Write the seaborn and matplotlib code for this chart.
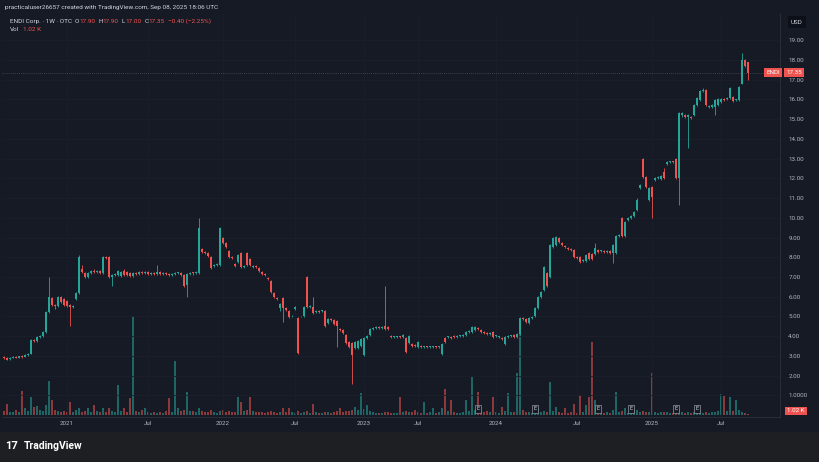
import numpy as np
import pandas as pd
import matplotlib.pyplot as plt
import seaborn as sns
from matplotlib.transforms import blended_transform_factory

# weekly candles, ENDI Corp. (OTC)
opens = [
    2.95, 2.90, 2.85, 2.90, 2.95, 2.92, 3.00, 2.97, 3.05, 3.10,
    3.80, 3.75, 3.95, 4.00, 4.20, 5.25, 5.95, 5.60, 5.55, 6.00,
    5.90, 5.80, 5.60, 5.50, 5.90, 6.20, 7.40, 7.20, 7.00, 7.20,
    7.30, 7.25, 7.30, 7.20, 8.00, 8.00, 7.00, 7.10, 7.10, 7.05,
    7.30, 7.25, 7.20, 7.05, 7.20, 7.15, 7.25, 7.20, 7.25, 7.15,
    7.20, 7.15, 7.25, 7.15, 7.20, 7.15, 7.10, 7.15, 7.20, 7.20,
    7.10, 6.60, 7.15, 7.20, 7.20, 7.20, 8.40, 8.22, 8.20, 8.00,
    7.55, 7.60, 7.60, 9.00, 8.70, 8.30, 8.00, 7.65, 7.75, 8.20,
    7.50, 8.20, 7.90, 7.50, 7.55, 7.45, 7.25, 7.15, 6.95, 6.80,
    6.20, 5.95, 5.45, 5.95, 5.45, 5.30, 5.00, 5.40, 4.90, 5.00,
    5.00, 7.00, 5.50, 5.50, 5.25, 5.30, 5.30, 5.30, 4.65, 4.85,
    4.80, 4.75, 4.35, 4.30, 4.05, 3.70, 3.65, 3.40, 3.40, 3.50,
    3.05, 3.90, 4.05, 4.35, 4.40, 4.45, 4.40, 4.50, 4.45, 4.00,
    3.95, 3.95, 3.96, 3.95, 3.90, 3.65, 3.60, 3.55, 3.45, 3.50,
    3.45, 3.46, 3.45, 3.45, 3.46, 3.45, 3.10, 3.90, 3.95, 3.95,
    4.00, 3.95, 4.00, 4.00, 4.05, 4.20, 4.20, 4.30, 4.40, 4.30,
    4.20, 4.15, 4.10, 4.20, 4.00, 3.95, 3.90, 3.60, 3.95, 4.00,
    4.05, 3.95, 4.10, 4.90, 4.85, 4.65, 4.90, 5.00, 5.45, 6.00,
    6.35, 7.20, 7.00, 8.50, 8.60, 9.00, 8.70, 8.55, 8.45, 8.40,
    8.35, 8.00, 8.00, 7.80, 7.80, 8.20, 8.15, 8.15, 8.35, 8.30,
    8.30, 8.25, 8.30, 8.20, 8.20, 9.10, 10.00, 9.10, 9.90, 10.00,
    10.10, 10.40, 11.50, 13.00, 12.05, 10.90, 11.55, 11.90, 12.00, 11.95,
    12.30, 12.70, 12.80, 12.85, 13.00, 12.00, 15.20, 15.20, 15.10, 15.10,
    15.20, 15.70, 15.95, 16.40, 16.45, 15.60, 15.60, 15.60, 15.70, 15.85,
    16.00, 16.00, 16.05, 16.10, 15.95, 15.95, 16.80, 18.00, 17.90,
]
closes = [
    2.90, 2.82, 2.90, 2.95, 2.92, 3.00, 2.97, 3.05, 3.10, 3.80,
    3.75, 3.95, 4.00, 4.20, 5.25, 6.00, 5.60, 5.55, 6.00, 5.75,
    5.60, 5.55, 5.50, 5.55, 6.20, 8.00, 7.25, 7.00, 7.20, 7.30,
    7.25, 7.30, 7.20, 8.00, 7.95, 7.00, 7.10, 7.15, 7.30, 7.25,
    7.10, 7.10, 7.05, 7.20, 7.15, 7.25, 7.20, 7.25, 7.15, 7.20,
    7.15, 7.25, 7.15, 7.20, 7.15, 7.10, 7.15, 7.20, 7.22, 7.10,
    6.55, 7.15, 7.20, 7.18, 7.25, 9.50, 8.25, 8.20, 8.05, 7.45,
    7.60, 7.65, 9.50, 8.70, 8.50, 8.00, 7.95, 7.55, 8.10, 7.50,
    7.55, 7.60, 7.60, 7.55, 7.50, 7.30, 7.15, 7.10, 6.90, 6.25,
    6.00, 5.90, 5.65, 5.45, 5.35, 4.95, 5.05, 5.50, 3.15, 5.02,
    5.50, 5.50, 5.55, 5.20, 5.30, 5.25, 5.32, 4.50, 4.85, 4.80,
    4.60, 4.50, 4.30, 4.15, 3.65, 3.45, 3.05, 3.70, 3.75, 3.85,
    3.90, 4.00, 4.35, 4.40, 4.45, 4.40, 4.45, 4.35, 4.35, 3.95,
    3.95, 3.96, 3.95, 4.05, 3.20, 4.00, 3.50, 3.50, 3.70, 3.45,
    3.46, 3.45, 3.45, 3.46, 3.45, 3.46, 3.60, 3.70, 3.95, 3.92,
    3.95, 4.00, 4.00, 4.05, 4.20, 4.25, 4.45, 4.45, 4.35, 4.20,
    4.15, 4.10, 4.15, 3.95, 4.00, 3.96, 3.85, 3.95, 4.00, 4.02,
    3.95, 4.10, 4.90, 4.85, 4.70, 4.90, 4.95, 5.45, 6.00, 6.25,
    7.50, 6.55, 8.60, 9.00, 9.05, 8.75, 8.60, 8.50, 8.40, 8.35,
    8.00, 7.95, 7.75, 7.85, 8.10, 7.90, 7.90, 8.45, 8.25, 8.30,
    8.25, 8.30, 8.20, 8.60, 9.10, 9.12, 9.10, 9.80, 10.00, 10.10,
    10.30, 10.90, 11.65, 12.05, 11.55, 11.50, 11.05, 12.00, 12.05, 12.10,
    12.00, 12.80, 12.85, 12.80, 12.00, 15.30, 15.30, 15.10, 15.20, 15.05,
    15.70, 16.05, 16.40, 16.45, 15.70, 15.62, 15.70, 15.95, 16.00, 16.00,
    15.95, 16.05, 16.55, 15.90, 15.97, 16.60, 18.00, 17.70, 17.35,
]
highs = [
    3.00, 2.95, 2.95, 3.00, 2.98, 3.02, 3.05, 3.08, 3.15, 3.85,
    3.85, 4.00, 4.05, 4.25, 5.30, 7.00, 6.00, 5.65, 6.05, 6.05,
    5.95, 5.85, 5.65, 5.60, 6.25, 8.10, 7.60, 7.25, 7.25, 7.35,
    7.40, 7.35, 7.35, 8.05, 8.05, 8.05, 7.15, 7.20, 7.35, 7.30,
    7.40, 7.30, 7.25, 7.25, 7.25, 7.30, 7.30, 7.30, 7.30, 7.25,
    7.25, 7.60, 7.30, 7.25, 7.25, 7.20, 7.20, 7.25, 7.25, 7.25,
    7.15, 7.20, 7.25, 7.25, 7.30, 10.00, 8.45, 8.30, 8.25, 8.05,
    7.65, 7.70, 9.55, 9.05, 8.75, 8.35, 8.05, 7.70, 8.15, 8.25,
    7.60, 8.25, 7.95, 7.60, 7.60, 7.50, 7.30, 7.20, 7.00, 6.85,
    6.25, 6.00, 5.70, 6.00, 5.50, 5.35, 5.10, 5.55, 4.95, 5.05,
    5.55, 7.05, 5.60, 6.00, 5.35, 5.35, 5.35, 5.35, 4.90, 4.90,
    4.85, 4.80, 4.40, 4.35, 4.10, 3.75, 3.70, 3.75, 3.80, 3.90,
    3.95, 4.05, 4.40, 4.45, 4.50, 4.50, 4.50, 6.55, 4.50, 4.05,
    4.00, 4.00, 4.00, 4.10, 3.95, 4.05, 3.65, 3.60, 3.75, 3.55,
    3.50, 3.50, 3.50, 3.50, 3.50, 3.50, 3.65, 3.95, 4.00, 4.00,
    4.05, 4.05, 4.05, 4.10, 4.25, 4.30, 4.50, 4.50, 4.45, 4.35,
    4.25, 4.20, 4.20, 4.25, 4.05, 4.00, 3.95, 4.00, 4.05, 4.05,
    4.10, 4.15, 4.95, 4.95, 4.90, 4.95, 5.00, 5.50, 6.05, 6.30,
    7.55, 7.25, 8.65, 9.05, 9.10, 9.05, 8.75, 8.60, 8.50, 8.45,
    8.40, 8.05, 8.05, 7.90, 8.15, 8.25, 8.20, 8.70, 8.40, 8.35,
    8.35, 8.35, 8.35, 8.65, 9.15, 9.20, 10.05, 9.85, 10.05, 10.15,
    10.35, 11.00, 11.70, 13.05, 12.10, 11.55, 11.60, 12.05, 12.10, 12.15,
    12.50, 12.85, 12.90, 12.90, 13.05, 15.35, 15.35, 15.25, 15.25, 15.15,
    15.75, 16.10, 16.45, 16.55, 16.50, 15.70, 15.75, 16.00, 16.05, 16.05,
    16.05, 16.10, 16.60, 16.15, 16.00, 16.65, 18.35, 18.05, 17.90,
]
lows = [
    2.85, 2.78, 2.82, 2.88, 2.88, 2.90, 2.92, 2.95, 3.02, 3.08,
    3.70, 3.72, 3.90, 3.98, 4.15, 5.20, 5.55, 5.40, 5.50, 5.70,
    5.55, 5.50, 4.50, 5.45, 5.85, 6.15, 7.20, 6.95, 6.95, 7.15,
    7.20, 7.20, 7.15, 7.15, 7.90, 6.95, 6.55, 7.05, 7.05, 7.00,
    7.05, 7.05, 7.00, 7.00, 7.10, 7.10, 7.15, 7.15, 7.10, 7.10,
    7.10, 7.10, 7.10, 7.10, 7.10, 7.05, 7.05, 7.10, 7.15, 7.05,
    6.50, 6.00, 7.10, 7.12, 7.15, 7.15, 8.20, 8.15, 8.00, 7.40,
    7.50, 7.55, 7.55, 8.65, 8.45, 7.95, 7.90, 7.50, 7.70, 7.45,
    7.45, 7.55, 7.55, 7.45, 7.45, 7.25, 7.10, 7.05, 6.85, 6.20,
    5.95, 5.85, 5.30, 4.70, 5.30, 4.90, 4.95, 5.35, 3.10, 4.95,
    4.95, 5.45, 5.45, 5.15, 5.20, 5.20, 5.25, 4.45, 4.60, 4.75,
    4.55, 3.45, 4.25, 4.10, 3.60, 3.40, 1.60, 3.35, 3.35, 3.45,
    3.00, 3.85, 4.00, 4.30, 4.35, 4.35, 4.35, 4.30, 4.30, 3.90,
    3.90, 3.90, 3.90, 3.90, 3.15, 3.60, 3.45, 3.45, 3.40, 3.40,
    3.40, 3.40, 3.40, 3.40, 3.40, 3.40, 3.05, 3.65, 3.90, 3.88,
    3.90, 3.90, 3.95, 3.95, 4.00, 4.15, 4.15, 4.25, 4.30, 4.15,
    4.10, 4.05, 4.05, 3.90, 3.95, 3.90, 3.80, 3.55, 3.90, 3.95,
    3.90, 3.90, 4.05, 4.80, 4.65, 4.60, 4.85, 4.95, 5.40, 5.95,
    6.30, 6.50, 6.95, 8.45, 8.55, 8.70, 8.55, 8.45, 8.35, 8.30,
    7.95, 7.90, 7.70, 7.75, 7.75, 7.85, 7.85, 8.10, 8.20, 8.25,
    8.20, 8.20, 8.15, 7.70, 8.15, 9.05, 9.05, 9.05, 9.85, 9.95,
    10.05, 10.35, 11.45, 12.00, 11.50, 10.85, 10.00, 11.85, 11.95, 11.90,
    11.95, 12.65, 12.75, 12.75, 11.95, 10.65, 15.10, 15.05, 13.55, 15.00,
    15.15, 15.65, 15.90, 16.35, 15.65, 15.55, 15.55, 15.20, 15.65, 15.80,
    15.90, 15.95, 16.00, 15.85, 15.90, 15.90, 16.75, 17.65, 17.00,
]
# volume in thousands of shares
volumes = [
    4, 11, 3, 3, 5, 3, 24, 7, 4, 18,
    8, 9, 5, 4, 10, 34, 15, 5, 4, 3,
    4, 3, 13, 3, 5, 7, 3, 4, 7, 3,
    10, 4, 3, 7, 3, 7, 4, 3, 30, 4,
    7, 3, 17, 99, 4, 3, 5, 7, 3, 2,
    3, 2, 3, 2, 4, 17, 3, 54, 7, 4,
    5, 23, 4, 4, 3, 7, 4, 3, 3, 5,
    3, 2, 4, 5, 3, 4, 3, 3, 18, 13,
    4, 5, 18, 4, 3, 3, 3, 2, 3, 4,
    3, 2, 3, 7, 3, 7, 3, 2, 4, 2,
    3, 4, 2, 11, 3, 2, 2, 3, 3, 2,
    3, 4, 7, 3, 4, 4, 5, 8, 5, 22,
    6, 10, 4, 3, 2, 2, 2, 3, 3, 2,
    2, 2, 18, 3, 4, 3, 3, 5, 3, 2,
    13, 2, 3, 7, 2, 3, 7, 26, 4, 15,
    3, 2, 2, 3, 15, 4, 38, 5, 23, 4,
    3, 4, 3, 18, 3, 2, 8, 4, 22, 3,
    3, 42, 97, 5, 3, 3, 2, 3, 8, 3,
    4, 3, 33, 4, 8, 3, 2, 7, 2, 3,
    11, 2, 20, 3, 10, 18, 73, 15, 4, 2,
    2, 3, 2, 5, 23, 3, 4, 7, 2, 3,
    5, 5, 3, 4, 3, 3, 42, 3, 2, 3,
    3, 3, 2, 2, 4, 6, 3, 2, 3, 2,
    3, 4, 3, 2, 3, 2, 3, 3, 4, 21,
    19, 4, 18, 4, 15, 5, 3, 2, 1.02,
]

tick_bars = [21, 48, 73, 97, 120, 138, 164, 191, 216, 239]
tick_labels = ["2021", "Jul", "2022", "Jul", "2023", "Jul", "2024", "Jul", "2025", "Jul"]
price_ticks = list(range(1, 20))
earnings_bars = [158, 177, 198, 209, 224, 231]

BG = "#161a25"
UP = "#26a69a"
DOWN = "#ef5350"
TXT = "#d1d4dc"
AXTXT = "#b2b5be"
GRID = "#1b1f2b"

df = pd.DataFrame({"open": opens, "high": highs, "low": lows,
                   "close": closes, "volume": volumes})
df["bar"] = np.arange(len(df))
df["dir"] = np.where(df["close"] >= df["open"], "up", "down")

sns.set_theme(style="dark")
plt.rcParams["font.family"] = ["Roboto", "DejaVu Sans"]

W, H = 820, 462
fig = plt.figure(figsize=(W / 100, H / 100), dpi=100, facecolor=BG)


def fx(x):
    return x / W


def fy(y):
    return 1 - y / H


# footer band
fig.patches.append(plt.Rectangle((0, 0), 1, fy(432), transform=fig.transFigure,
                                 color="#1e1f22", zorder=0))

ax = fig.add_axes([fx(2), fy(417), fx(780) - fx(2), fy(14) - fy(417)])
ax2 = ax.twinx()

# volume pane overlay
sns.barplot(data=df, x="bar", y="volume", hue="dir",
            palette={"up": UP, "down": DOWN}, native_scale=True, dodge=False,
            errorbar=None, legend=False, width=0.7, saturation=1, alpha=0.55,
            linewidth=0, ax=ax2)
ax2.set_ylim(-2, 401)
ax2.set_yticks([])
ax2.set_ylabel("")
ax2.set_xlabel("")

ax.set_zorder(ax2.get_zorder() + 1)
ax.patch.set_visible(False)

# candles
colors = np.where(df["dir"] == "up", UP, DOWN)
ax.vlines(df["bar"], df["low"], df["high"], colors=colors, lw=0.6, zorder=3)
body = (df["close"] - df["open"]).abs().clip(lower=0.05)
ax.bar(df["bar"], body, bottom=np.minimum(df["open"], df["close"]),
       width=0.72, color=colors, linewidth=0, zorder=4)

ax.set_xlim(-0.67, 258.67)
ax.set_ylim(-0.09, 20.32)

ax.set_xticks(tick_bars)
ax.set_xticklabels(tick_labels)
ax.set_yticks(price_ticks)
ax.set_yticklabels(["1.0000" if p == 1 else f"{p:.2f}" for p in price_ticks])
ax.yaxis.tick_right()
ax.tick_params(axis="both", length=0, labelsize=4.5, labelcolor=AXTXT)
ax.tick_params(axis="y", pad=6)
ax.tick_params(axis="x", pad=3)
ax.grid(True, color=GRID, lw=0.6)
ax.set_axisbelow(True)
for side in ["top", "left"]:
    ax.spines[side].set_visible(False)
    ax2.spines[side].set_visible(False)
for side in ["right", "bottom"]:
    ax.spines[side].set_color("#2a2e39")
    ax.spines[side].set_linewidth(0.7)
ax2.spines["right"].set_visible(False)
ax2.spines["bottom"].set_visible(False)

# last price line and labels
last = df["close"].iloc[-1]
ax.axhline(last, color="#9598a1", lw=0.5, ls=(0, (1, 2)), alpha=0.6, zorder=2)
tr = blended_transform_factory(fig.transFigure, ax.transData)
ax.text(fx(773), last, "ENDI", transform=tr, ha="center", va="center",
        fontsize=4.5, color="white", clip_on=False, zorder=10,
        bbox=dict(boxstyle="square,pad=0.3", fc=DOWN, ec="none"))
ax.text(fx(794), last, f"{last:.2f}", transform=tr, ha="center", va="center",
        fontsize=4.5, color="white", clip_on=False, zorder=10,
        bbox=dict(boxstyle="square,pad=0.3", fc=DOWN, ec="none"))
fig.text(fx(796), fy(411), "1.02 K", ha="center", va="center", fontsize=4.5,
         color="white", bbox=dict(boxstyle="square,pad=0.3", fc=DOWN, ec="none"))
fig.text(fx(797), fy(22), "USD", ha="center", va="center", fontsize=4.5,
         color=TXT, bbox=dict(boxstyle="square,pad=0.5", fc="#0d1018", ec="none"))

# earnings markers
for b in earnings_bars:
    ax2.text(b, 6, "E", ha="center", va="center", fontsize=4, color=TXT,
             zorder=6, bbox=dict(boxstyle="square,pad=0.25", fc=BG,
                                 ec="#9598a1", lw=0.5))

# header
renderer = fig.canvas.get_renderer()
fig.text(fx(5), fy(7), "practicaluser26657 created with TradingView.com, "
         "Sep 08, 2025 18:06 UTC", fontsize=4.6, color=TXT, va="center")
x = 10
for s, c, gap in [("ENDI Corp. · 1W · OTC", TXT, 3), ("O", TXT, 0),
                  ("17.90", DOWN, 3), ("H", TXT, 0), ("17.90", DOWN, 3),
                  ("L", TXT, 0), ("17.00", DOWN, 3), ("C", TXT, 0),
                  ("17.35", DOWN, 3), ("−0.40 (−2.25%)", DOWN, 0)]:
    t = fig.text(fx(x), fy(21.5), s, fontsize=4.6, color=c, va="center")
    x += t.get_window_extent(renderer).width + gap
t = fig.text(fx(10), fy(29.5), "Vol", fontsize=4.6, color=TXT, va="center")
fig.text(fx(10 + t.get_window_extent(renderer).width + 4), fy(29.5), "1.02 K",
         fontsize=4.6, color=DOWN, va="center")

# footer logo
fig.text(fx(5), fy(446), "17", fontsize=8, fontweight="bold", color="white",
         va="center")
fig.text(fx(24), fy(446), "TradingView", fontsize=7.5, fontweight="semibold",
         color="white", va="center")

fig.savefig("out.png", dpi=100, facecolor=fig.get_facecolor())
